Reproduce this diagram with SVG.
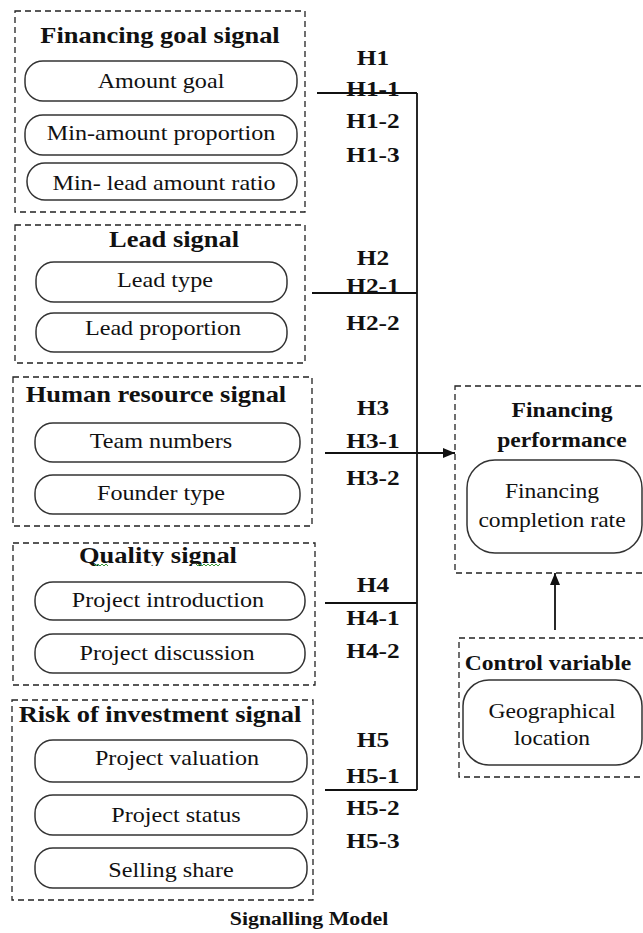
<svg xmlns="http://www.w3.org/2000/svg" width="643" height="933" viewBox="0 0 643 933">
<defs>
<style>
.grp{fill:none;stroke:#222;stroke-width:1.3;stroke-dasharray:6 4}
.pill{fill:#fff;stroke:#333;stroke-width:1.5}
.t{font-family:"Liberation Serif","Times New Roman",serif;fill:#111;text-anchor:middle}
.b{font-weight:bold;font-size:23px}
.bs{font-weight:bold;font-size:20.5px}
.r{font-size:21px}
.rs{font-size:20.5px}
.h{font-weight:bold;font-size:22px}
.ln{fill:none;stroke:#111;stroke-width:1.8}
.sq{fill:none;stroke:#3a9a3a;stroke-width:1}
</style>
<marker id="ah" viewBox="0 0 12 10" refX="12" refY="5" markerWidth="12" markerHeight="10" markerUnits="userSpaceOnUse" orient="auto">
<path d="M0,0 L12,5 L0,10 Z" fill="#111"/>
</marker>
<clipPath id="qclip"><rect x="13" y="540" width="302" height="26"/></clipPath>
</defs>
<rect width="643" height="933" fill="#fff"/>

<g id="financing-goal-signal">
<rect class="grp" x="15" y="11" width="290" height="201"/>
<text class="t b" transform="translate(160 43) scale(1.15 1)">Financing goal signal</text>
<rect class="pill" x="25" y="61" width="272" height="40" rx="18"/>
<text class="t r" transform="translate(161 88) scale(1.15 1)">Amount goal</text>
<rect class="pill" x="25" y="115" width="272" height="40" rx="18"/>
<text class="t r" transform="translate(161 140) scale(1.15 1)">Min-amount proportion</text>
<rect class="pill" x="27" y="163" width="270" height="37" rx="18"/>
<text class="t r" transform="translate(164 190) scale(1.15 1)">Min- lead amount ratio</text>
</g>

<g id="lead-signal">
<rect class="grp" x="15" y="225" width="290" height="138"/>
<text class="t b" transform="translate(174 247) scale(1.15 1)">Lead signal</text>
<rect class="pill" x="36" y="262" width="251" height="40" rx="18"/>
<text class="t r" transform="translate(165 287) scale(1.15 1)">Lead type</text>
<rect class="pill" x="36" y="313" width="251" height="39" rx="18"/>
<text class="t r" transform="translate(163 335) scale(1.15 1)">Lead proportion</text>
</g>

<g id="human-resource-signal">
<rect class="grp" x="13" y="377" width="299" height="149"/>
<text class="t b" transform="translate(156 402) scale(1.15 1)">Human resource signal</text>
<rect class="pill" x="35" y="423" width="265" height="39" rx="18"/>
<text class="t r" transform="translate(161 448) scale(1.15 1)">Team numbers</text>
<rect class="pill" x="35" y="475" width="265" height="39" rx="18"/>
<text class="t r" transform="translate(161 500) scale(1.15 1)">Founder type</text>
</g>

<g id="quality-signal">
<rect class="grp" x="13" y="543" width="302" height="142"/>
<g clip-path="url(#qclip)">
<text class="t b" transform="translate(158 563) scale(1.15 1)">Quality signal</text>
</g>
<path class="sq" d="M94,564 l2,2 l2,-2 l2,2 l2,-2 l2,2 l2,-2 l2,2"/>
<path class="sq" d="M196,564 l2,2 l2,-2 l2,2 l2,-2 l2,2 l2,-2 l2,2 l2,-2 l2,2 l2,-2 l2,2 l2,-2"/>
<rect class="pill" x="35" y="582" width="270" height="38" rx="18"/>
<text class="t r" transform="translate(168 607) scale(1.15 1)">Project introduction</text>
<rect class="pill" x="35" y="634" width="270" height="39" rx="18"/>
<text class="t r" transform="translate(167 660) scale(1.15 1)">Project discussion</text>
</g>

<g id="risk-of-investment-signal">
<rect class="grp" x="12" y="700" width="301" height="200"/>
<text class="t b" transform="translate(160 722) scale(1.15 1)">Risk of investment signal</text>
<rect class="pill" x="35" y="740" width="272" height="42" rx="18"/>
<text class="t r" transform="translate(177 765) scale(1.15 1)">Project valuation</text>
<rect class="pill" x="35" y="795" width="272" height="40" rx="18"/>
<text class="t r" transform="translate(176 822) scale(1.15 1)">Project status</text>
<rect class="pill" x="35" y="848" width="272" height="40" rx="18"/>
<text class="t r" transform="translate(171 877) scale(1.15 1)">Selling share</text>
</g>

<g id="financing-performance">
<rect class="grp" x="455" y="386" width="195" height="187"/>
<text class="t bs" transform="translate(562 417) scale(1.15 1)">Financing</text>
<text class="t bs" transform="translate(562 447) scale(1.15 1)">performance</text>
<rect class="pill" x="467" y="460" width="175" height="93" rx="28"/>
<text class="t rs" transform="translate(552 498) scale(1.15 1)">Financing</text>
<text class="t rs" transform="translate(552 527) scale(1.15 1)">completion rate</text>
</g>

<g id="control-variable">
<rect class="grp" x="459" y="638" width="191" height="139"/>
<text class="t bs" transform="translate(548 670) scale(1.15 1)">Control variable</text>
<rect class="pill" x="463" y="680" width="179" height="85" rx="26"/>
<text class="t rs" transform="translate(552 718) scale(1.15 1)">Geographical</text>
<text class="t rs" transform="translate(552 745) scale(1.15 1)">location</text>
</g>

<g id="hypotheses">
<text class="t h" transform="translate(373 65) scale(1.15 1)">H1</text>
<text class="t h" transform="translate(373 96) scale(1.15 1)">H1-1</text>
<text class="t h" transform="translate(373 128) scale(1.15 1)">H1-2</text>
<text class="t h" transform="translate(373 162) scale(1.15 1)">H1-3</text>
<text class="t h" transform="translate(373 265) scale(1.15 1)">H2</text>
<text class="t h" transform="translate(373 293) scale(1.15 1)">H2-1</text>
<text class="t h" transform="translate(373 330) scale(1.15 1)">H2-2</text>
<text class="t h" transform="translate(373 415) scale(1.15 1)">H3</text>
<text class="t h" transform="translate(373 448) scale(1.15 1)">H3-1</text>
<text class="t h" transform="translate(373 485) scale(1.15 1)">H3-2</text>
<text class="t h" transform="translate(373 592) scale(1.15 1)">H4</text>
<text class="t h" transform="translate(373 625) scale(1.15 1)">H4-1</text>
<text class="t h" transform="translate(373 658) scale(1.15 1)">H4-2</text>
<text class="t h" transform="translate(373 747) scale(1.15 1)">H5</text>
<text class="t h" transform="translate(373 783) scale(1.15 1)">H5-1</text>
<text class="t h" transform="translate(373 815) scale(1.15 1)">H5-2</text>
<text class="t h" transform="translate(373 848) scale(1.15 1)">H5-3</text>
</g>

<g id="connectors">
<path class="ln" d="M417,93 V790"/>
<path class="ln" d="M317,93 H417"/>
<path class="ln" d="M312,293 H417"/>
<path class="ln" d="M325,603 H417"/>
<path class="ln" d="M325,790 H417"/>
<path class="ln" d="M325,453 H455" marker-end="url(#ah)"/>
<path class="ln" d="M555,630 V573" marker-end="url(#ah)"/>
</g>

<text class="t" style="font-weight:bold;font-size:19px" transform="translate(309 925) scale(1.15 1)">Signalling Model</text>
</svg>
